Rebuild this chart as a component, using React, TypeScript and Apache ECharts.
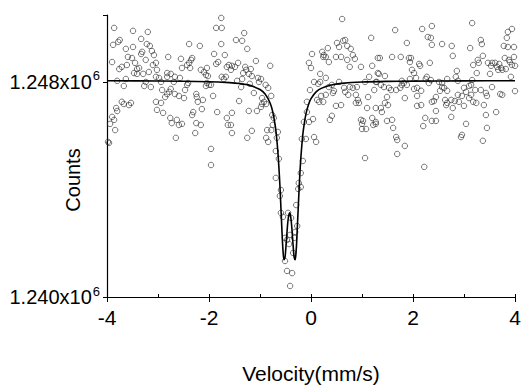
import React, { useEffect, useRef } from "react";
import * as echarts from "echarts";

// Velocity tick labels
const xTickValues = [-4, -2, 0, 2, 4];
// Count tick labels (value, mantissa text, exponent)
const yTickValues = [1240000, 1248000];
const yTickMantissa = ["1.240x10", "1.248x10"];
const yTickExponent = "6";

// Fitted curve
const fitVelocity = [-4, -3, -2, -1.6, -1.4, -1.2, -1.0, -0.9, -0.8, -0.75, -0.7, -0.68, -0.65, -0.62, -0.6, -0.57, -0.55, -0.53, -0.51, -0.5, -0.48, -0.45, -0.42, -0.4, -0.38, -0.35, -0.33, -0.31, -0.29, -0.28, -0.25, -0.22, -0.2, -0.17, -0.15, -0.1, -0.05, 0, 0.1, 0.2, 0.4, 0.6, 1, 1.5, 2, 3, 4];
const fitCounts = [1248042, 1248034, 1248008, 1247974, 1247939, 1247872, 1247717, 1247548, 1247207, 1246888, 1246356, 1246045, 1245414, 1244521, 1243759, 1242479, 1241754, 1241385, 1241474, 1241660, 1242168, 1242864, 1243128, 1243010, 1242668, 1241902, 1241474, 1241385, 1241754, 1242085, 1243338, 1244521, 1245148, 1245859, 1246210, 1246803, 1247155, 1247377, 1247629, 1247761, 1247889, 1247947, 1247998, 1248022, 1248032, 1248041, 1248045];

// Measured points [velocity, counts]
const measuredLeft: [number, number][] = [
  [-3.86,1250010],[-3.49,1249900],[-3.20,1249860],[-3.75,1249560],[-3.78,1249490],[-3.88,1249380],[-3.33,1249600],[-3.63,1249230],[-3.49,1249300],[-3.22,1249410],[-3.16,1249340],[-3.12,1249150],[-3.31,1249120],[-3.33,1249040],[-3.59,1248930],[-3.51,1248890],[-3.08,1249000],[-3.90,1248740],[-3.71,1248560],[-3.61,1248630],[-3.45,1248710],[-3.76,1248480],[-3.41,1248480],[-3.37,1248520],[-3.24,1248820],[-3.10,1248630],[-3.04,1248710],[-3.47,1248330],[-3.41,1248300],[-3.29,1248300],[-3.18,1248370],[-3.02,1248450],[-3.80,1248040],[-3.63,1248110],[-3.24,1248000],[-3.67,1247850],[-3.27,1247850],[-3.14,1247810],[-3.04,1248190],[-3.71,1247260],[-3.67,1247180],[-3.57,1247140],[-3.53,1247220],[-3.04,1247260],[-3.02,1246960],[-3.82,1247030],[-3.80,1246920],[-3.90,1246700],[-3.86,1246590],[-3.94,1246440],[-3.84,1246210],[-3.98,1245770],[-3.96,1245730],
  [-2.39,1249410],[-2.18,1249340],[-2.80,1248930],[-2.55,1248860],[-2.33,1248890],[-2.35,1248820],[-2.39,1248710],[-2.43,1248630],[-2.53,1248520],[-2.37,1248520],[-2.16,1248450],[-2.04,1248520],[-2.10,1248370],[-2.06,1248260],[-2.02,1248220],[-2.82,1248330],[-2.75,1248300],[-2.82,1248190],[-2.67,1248190],[-2.57,1248150],[-2.98,1248150],[-2.94,1248000],[-2.69,1248000],[-2.43,1247890],[-2.41,1247960],[-2.04,1247960],[-2.06,1247850],[-2.00,1247890],[-2.92,1247700],[-2.75,1247740],[-2.78,1247630],[-2.82,1247550],[-2.86,1247440],[-2.67,1247550],[-2.59,1247480],[-2.49,1247400],[-2.47,1247700],[-2.25,1247550],[-2.24,1247440],[-2.22,1247260],[-2.12,1247330],[-1.92,1247480],[-2.94,1247220],[-2.90,1246850],[-2.76,1246660],[-2.73,1246470],[-2.63,1246590],[-2.59,1246400],[-2.53,1246440],[-2.31,1246880],[-2.33,1246770],[-2.14,1246990],[-2.25,1246470],[-2.16,1246400],[-2.27,1246100],[-2.65,1245920],[-1.96,1245510],[-1.96,1244910],
  [-1.76,1250380],[-1.86,1250010],[-1.75,1250010],[-1.31,1249820],[-1.47,1249560],[-1.35,1249530],[-1.76,1249410],[-1.25,1249230],[-1.90,1249040],[-1.69,1249000],[-1.08,1248780],[-1.82,1248740],[-1.86,1248670],[-1.65,1248560],[-1.61,1248630],[-1.55,1248600],[-1.49,1248560],[-1.43,1248710],[-1.29,1248560],[-1.57,1248450],[-1.27,1248450],[-1.18,1248480],[-1.33,1248330],[-1.22,1248300],[-1.16,1248220],[-1.75,1248190],[-1.67,1248190],[-1.71,1248110],[-1.45,1248040],[-1.35,1248110],[-1.04,1248150],[-0.98,1248110],[-1.02,1248000],[-1.96,1247890],[-1.20,1247930],[-1.37,1247810],[-1.12,1247590],[-0.96,1247400],[-0.92,1247260],[-1.41,1247290],[-0.96,1247180],[-0.98,1247070],[-1.06,1246920],[-1.22,1246920],[-1.84,1246880],[-1.55,1246850],[-1.65,1246660],[-1.63,1246400],[-1.57,1246400],[-1.55,1246100],[-1.16,1246180],[-1.25,1245920],
];
const measuredCentre: [number, number][] = [
  [-0.80,1248600],[-0.89,1247890],[-0.84,1247780],[-0.78,1247480],[-0.88,1247180],[-0.76,1246770],[-0.73,1246660],[-0.75,1246400],[-0.86,1246210],[-0.78,1246210],[-0.65,1246140],[-0.88,1245920],[-0.84,1245770],[-0.67,1245920],[-0.69,1245430],[-0.63,1245140],[-0.69,1244430],[-0.59,1243980],[-0.61,1243760],[-0.59,1243130],[-0.55,1242980],[-0.45,1243130],[-0.39,1242940],[-0.29,1243420],[-0.24,1244240],[-0.20,1244090],[-0.25,1244020],[-0.20,1244610],[-0.16,1245060],[-0.51,1242200],[-0.47,1242120],[-0.41,1242310],[-0.43,1241970],[-0.31,1242420],[-0.27,1242640],[-0.33,1242200],[-0.51,1241340],[-0.35,1241640],[-0.47,1240970],[-0.37,1240890],[-0.41,1240410],[-0.18,1245880],[-0.10,1245880],[-0.14,1246510],[-0.04,1246510],[0.04,1246620],[0.06,1245950],[0.10,1245770],[-0.08,1246880],[-0.08,1247260],[-0.02,1247700],[0.06,1248000],[0.14,1247930],[0.18,1248000],[0.20,1247480],[0.12,1247330],[0.16,1247260],[0.00,1248520],[-0.04,1248710],[0.02,1249040],[0.18,1248300],[0.22,1249120],[0.24,1248930],
  [0.61,1250340],[1.18,1249640],[0.63,1249530],[0.67,1249560],[0.51,1249450],[0.55,1249300],[0.71,1249340],[0.78,1249230],[0.33,1249260],[0.25,1249000],[0.29,1248930],[0.82,1249000],[0.86,1248860],[0.49,1248930],[0.59,1248930],[0.71,1248820],[0.35,1248740],[1.31,1248890],[1.20,1248600],[0.76,1248560],[0.98,1248560],[1.31,1248330],[0.29,1248150],[1.14,1248190],[0.55,1248000],[0.41,1247890],[0.35,1247810],[0.65,1247780],[0.76,1247810],[0.82,1247780],[0.90,1247810],[1.06,1248000],[1.27,1248000],[0.45,1247670],[0.67,1247630],[1.24,1247700],[0.43,1247590],[0.73,1247520],[0.29,1247520],[0.88,1247520],[1.12,1247440],[0.24,1247260],[0.92,1247330],[0.88,1247220],[0.94,1247220],[0.49,1247110],[0.59,1247140],[1.10,1247030],[1.27,1247030],[0.41,1246740],[0.37,1246590],[0.98,1246590],[1.02,1246550],[1.20,1246660],[1.00,1246440],[1.00,1246250],[1.08,1246250],[1.22,1246400],[1.27,1246510],[1.06,1245170],
];
const measuredRight: [number, number][] = [
  [1.65,1249930],[2.18,1249970],[2.37,1250080],[2.29,1249670],[2.35,1249640],[1.88,1249450],[2.37,1249380],[1.35,1248890],[1.59,1248930],[1.76,1248930],[1.92,1248890],[1.96,1248890],[1.94,1248740],[2.12,1248670],[2.14,1248600],[2.33,1248710],[1.98,1248450],[2.02,1248330],[1.33,1248300],[1.45,1248220],[2.27,1248190],[2.25,1248110],[2.06,1248150],[1.94,1248110],[1.78,1248040],[1.29,1248000],[1.37,1247890],[1.43,1247810],[1.53,1247780],[1.57,1247700],[1.67,1247700],[1.75,1247780],[1.78,1247890],[1.82,1247960],[1.88,1247890],[2.02,1247740],[2.08,1247780],[2.16,1247670],[2.31,1247960],[1.49,1247440],[1.84,1247400],[2.08,1247480],[1.45,1247220],[1.51,1247140],[1.37,1247030],[1.39,1246880],[2.08,1247110],[2.16,1247140],[2.37,1247260],[2.24,1246660],[2.37,1246550],[1.27,1246440],[1.49,1246550],[1.59,1246590],[1.61,1246290],[2.20,1246360],[1.67,1245950],[1.69,1245840],[1.84,1245620],[1.69,1245320],[2.22,1244840],
  [3.16,1250190],[3.33,1249560],[3.35,1249410],[2.57,1249410],[2.76,1249340],[3.12,1249260],[2.78,1248970],[3.37,1248970],[3.27,1248820],[3.29,1248710],[3.18,1248630],[3.47,1248710],[3.25,1248330],[2.86,1248410],[2.84,1248190],[2.88,1248040],[2.67,1248110],[3.16,1248070],[2.51,1248000],[2.57,1247960],[2.35,1248070],[3.00,1247780],[3.10,1247850],[3.22,1247700],[3.33,1247700],[2.57,1247810],[2.61,1247780],[2.53,1247670],[2.67,1247670],[3.04,1247630],[3.43,1247590],[2.96,1247480],[2.88,1247520],[3.10,1247400],[2.45,1247440],[2.41,1247290],[2.63,1247330],[2.75,1247330],[2.82,1247290],[2.90,1247260],[2.67,1247220],[3.18,1247260],[3.24,1247220],[2.65,1247140],[2.78,1247030],[3.00,1247110],[3.39,1247140],[2.45,1246920],[3.43,1246770],[2.45,1246550],[2.75,1246700],[3.04,1246440],[3.45,1246290],[2.96,1246030],[2.94,1245950],[3.37,1245810],
  [3.94,1249970],[3.86,1249860],[3.84,1249640],[3.78,1249340],[3.86,1249300],[3.98,1249300],[3.80,1248890],[3.98,1248930],[3.88,1248820],[3.90,1248740],[3.94,1248630],[4.00,1248600],[3.55,1248710],[3.61,1248710],[3.69,1248670],[3.53,1248600],[3.65,1248560],[3.73,1248520],[3.67,1248450],[3.75,1248450],[3.82,1248480],[3.51,1248300],[3.92,1248190],[3.14,1247890],[3.45,1247480],[3.55,1247810],[3.71,1247550],[3.75,1247520],[4.00,1247660],[3.14,1247520],[3.63,1246880],
];

const FONT = "'Liberation Sans', Arial, Helvetica, sans-serif";

export default function App() {
  const ref = useRef<HTMLDivElement>(null);

  useEffect(() => {
    if (!ref.current) return;
    const chart = echarts.init(ref.current, undefined, { renderer: "svg" });
    const measured = [...measuredLeft, ...measuredCentre, ...measuredRight];
    const fit = fitVelocity.map((v, i) => [v, fitCounts[i]]);

    chart.setOption({
      animation: false,
      backgroundColor: "#ffffff",
      textStyle: { fontFamily: FONT },
      grid: { left: 107, right: 8, top: 15, bottom: 92, containLabel: false, outerBoundsMode: "none" },
      graphic: [
        {
          type: "text",
          x: 73,
          y: 180,
          rotation: Math.PI / 2,
          silent: true,
          style: {
            text: "Counts",
            fontSize: 20,
            fontFamily: FONT,
            fill: "#000",
            align: "center",
            verticalAlign: "middle",
          },
        },
      ],
      xAxis: [
        {
          type: "value",
          min: -4,
          max: 4,
          interval: 2,
          position: "bottom",
          axisLine: { onZero: false, lineStyle: { color: "#000", width: 1.2 } },
          axisTick: { show: true, inside: false, length: 5, lineStyle: { color: "#000", width: 1 } },
          axisLabel: {
            margin: 10,
            fontSize: 21,
            color: "#000",
            fontFamily: FONT,
            formatter: (v: number) => (xTickValues.includes(v) ? String(v) : ""),
          },
          splitLine: { show: false },
          name: "Velocity(mm/s)",
          nameLocation: "middle",
          nameGap: 66,
          nameMoveOverlap: false,
          nameTextStyle: { fontSize: 21, color: "#000", fontFamily: FONT },
        },
        {
          type: "value",
          min: -4,
          max: 4,
          interval: 1,
          position: "bottom",
          axisLine: { show: false, onZero: false },
          axisTick: { show: true, inside: true, length: 3, lineStyle: { color: "#000", width: 1 } },
          axisLabel: { show: false },
          splitLine: { show: false },
        },
      ],
      yAxis: {
        type: "value",
        min: 1240000,
        max: 1250490,
        interval: 8000,
        axisLine: { show: true, onZero: false, lineStyle: { color: "#000", width: 1.2 } },
        axisTick: { show: true, inside: false, length: 4, lineStyle: { color: "#000" } },
        splitLine: { show: false },
        axisLabel: {
          margin: 7,
          color: "#000",
          fontFamily: FONT,
          formatter: (v: number) => {
            const i = yTickValues.indexOf(v);
            return i >= 0 ? `{a|${yTickMantissa[i]}}{b|${yTickExponent}}` : "";
          },
          rich: {
            a: { fontSize: 20, color: "#000", fontFamily: FONT },
            b: { fontSize: 13, color: "#000", fontFamily: FONT, verticalAlign: "top", padding: [0, 0, 12, 1] },
          },
        },
      },
      series: [
        {
          type: "scatter",
          data: measured,
          symbol: "circle",
          symbolSize: 5.5,
          silent: true,
          itemStyle: { color: "rgba(255,255,255,0)", borderColor: "#2a2a2a", borderWidth: 0.8 },
          z: 2,
        },
        {
          type: "line",
          data: fit,
          showSymbol: false,
          symbol: "none",
          smooth: 0.3,
          silent: true,
          lineStyle: { color: "#000", width: 1.6 },
          z: 3,
        },
      ],
    });

    return () => chart.dispose();
  }, []);

  return (
    <div
      ref={ref}
      style={{ position: "fixed", left: 0, top: 0, width: 523, height: 389, background: "#fff" }}
    />
  );
}
